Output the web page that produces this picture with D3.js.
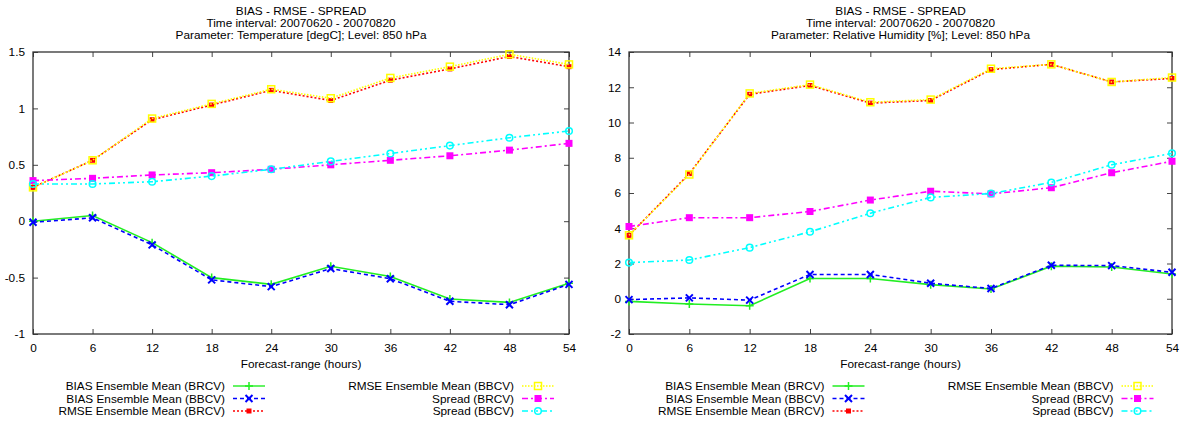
<!DOCTYPE html>
<html>
<head>
<meta charset="utf-8">
<script src="https://cdn.jsdelivr.net/npm/d3@7"></script>
<style>
  html, body { margin: 0; padding: 0; background: #ffffff; }
  svg { display: block; }
  text { font-family: "Liberation Sans", Arial, Helvetica, sans-serif; font-size: 11.8px; fill: #000; }
</style>
</head>
<body>
<svg id="chart" width="1184" height="421"></svg>
<script>
// ---------- data ----------
const hours = [0, 6, 12, 18, 24, 30, 36, 42, 48, 54];
const xTicks = [0, 6, 12, 18, 24, 30, 36, 42, 48, 54];

const seriesNames = [
  "BIAS Ensemble Mean (BRCV)",
  "BIAS Ensemble Mean (BBCV)",
  "RMSE Ensemble Mean (BRCV)",
  "RMSE Ensemble Mean (BBCV)",
  "Spread (BRCV)",
  "Spread (BBCV)"
];

// Temperature chart
const tempTitle = ["BIAS - RMSE - SPREAD", "Time interval: 20070620 - 20070820", "Parameter: Temperature [degC]; Level: 850 hPa"];
const tempYTicks = [-1, -0.5, 0, 0.5, 1, 1.5];
const tempBiasBRCV = [0.00, 0.05, -0.19, -0.50, -0.56, -0.40, -0.49, -0.69, -0.72, -0.55];
const tempBiasBBCV = [-0.01, 0.03, -0.21, -0.52, -0.58, -0.42, -0.51, -0.71, -0.74, -0.56];
const tempRmseBRCV = [0.30, 0.54, 0.90, 1.03, 1.16, 1.07, 1.25, 1.35, 1.46, 1.37];
const tempRmseBBCV = [0.30, 0.54, 0.91, 1.04, 1.17, 1.09, 1.27, 1.37, 1.48, 1.39];
const tempSpreadBRCV = [0.36, 0.38, 0.41, 0.43, 0.46, 0.50, 0.54, 0.58, 0.63, 0.69];
const tempSpreadBBCV = [0.33, 0.33, 0.35, 0.40, 0.46, 0.53, 0.60, 0.67, 0.74, 0.80];

// Relative humidity chart
const rhTitle = ["BIAS - RMSE - SPREAD", "Time interval: 20070620 - 20070820", "Parameter: Relative Humidity [%]; Level: 850 hPa"];
const rhYTicks = [-2, 0, 2, 4, 6, 8, 10, 12, 14];
const rhBiasBRCV = [-0.15, -0.30, -0.40, 1.15, 1.15, 0.80, 0.55, 1.85, 1.80, 1.40];
const rhBiasBBCV = [-0.05, 0.05, -0.08, 1.38, 1.38, 0.88, 0.58, 1.90, 1.88, 1.50];
const rhRmseBRCV = [3.60, 7.10, 11.60, 12.10, 11.10, 11.25, 13.00, 13.30, 12.30, 12.50];
const rhRmseBBCV = [3.60, 7.05, 11.65, 12.15, 11.15, 11.30, 13.05, 13.30, 12.30, 12.55];
const rhSpreadBRCV = [4.10, 4.60, 4.60, 4.95, 5.60, 6.10, 5.95, 6.30, 7.15, 7.80];
const rhSpreadBBCV = [2.05, 2.20, 2.90, 3.80, 4.85, 5.75, 5.97, 6.60, 7.60, 8.25];

const xLabel = "Forecast-range (hours)";

// ---------- styles ----------
const styles = [
  { color: "#22ee22", dash: null, marker: "plus" },
  { color: "#0000ff", dash: "4,3", marker: "cross" },
  { color: "#ff0000", dash: "2,2", marker: "smallsq" },
  { color: "#ffff00", dash: "1.5,1.5", marker: "opensq" },
  { color: "#ff00ff", dash: "6,3,2,3", marker: "fillsq" },
  { color: "#00ffff", dash: "6,3,2,3,2,3", marker: "circle" }
];

const svg = d3.select("#chart");

function drawMarker(g, type, color, x, y) {
  if (type === "plus") {
    g.append("path").attr("d", `M${x-4},${y}H${x+4}M${x},${y-4}V${y+4}`)
      .attr("stroke", color).attr("stroke-width", 1.5).attr("fill", "none");
  } else if (type === "cross") {
    g.append("path").attr("d", `M${x-3.5},${y-3.5}L${x+3.5},${y+3.5}M${x-3.5},${y+3.5}L${x+3.5},${y-3.5}`)
      .attr("stroke", color).attr("stroke-width", 2).attr("fill", "none");
  } else if (type === "smallsq") {
    g.append("rect").attr("x", x-2.5).attr("y", y-2.5).attr("width", 5).attr("height", 5)
      .attr("fill", color);
  } else if (type === "opensq") {
    g.append("rect").attr("x", x-3.5).attr("y", y-3.5).attr("width", 7).attr("height", 7)
      .attr("fill", "none").attr("stroke", color).attr("stroke-width", 1.5);
  } else if (type === "fillsq") {
    g.append("rect").attr("x", x-3.5).attr("y", y-3.5).attr("width", 7).attr("height", 7)
      .attr("fill", color);
  } else if (type === "circle") {
    g.append("circle").attr("cx", x).attr("cy", y).attr("r", 3.3)
      .attr("fill", "none").attr("stroke", color).attr("stroke-width", 1.5);
  }
}

function drawChart(cfg) {
  const left = cfg.left, right = cfg.right, top = 52, bottom = 334;
  const cx = (left + right) / 2;
  const x = d3.scaleLinear().domain([0, 54]).range([left, right]);
  const y = d3.scaleLinear().domain(cfg.yDomain).range([bottom, top]);
  const g = svg.append("g");

  // titles
  cfg.title.forEach((t, i) => {
    g.append("text").attr("x", cx).attr("y", 15 + i * 12)
      .attr("text-anchor", "middle").text(t);
  });

  // axes (inward ticks, mirrored)
  const axB = g.append("g").attr("transform", `translate(0,${bottom})`)
    .call(d3.axisBottom(x).tickValues(xTicks).tickSize(-5).tickPadding(8).tickFormat(d3.format("d")));
  const axT = g.append("g").attr("transform", `translate(0,${top})`)
    .call(d3.axisTop(x).tickValues(xTicks).tickSize(-5).tickFormat(""));
  const axL = g.append("g").attr("transform", `translate(${left},0)`)
    .call(d3.axisLeft(y).tickValues(cfg.yTicks).tickSize(-5).tickPadding(8).tickFormat(d => String(d)));
  const axR = g.append("g").attr("transform", `translate(${right},0)`)
    .call(d3.axisRight(y).tickValues(cfg.yTicks).tickSize(-5).tickFormat(""));
  [axB, axT, axL, axR].forEach(a => {
    a.select(".domain").remove();
    a.selectAll("line").attr("stroke", "#444");
    a.selectAll("text").attr("fill", "#000").style("font-size", "11.8px")
      .style("font-family", "'Liberation Sans', Arial, sans-serif");
  });
  axB.selectAll("text").attr("dy", "0.85em");

  // frame
  g.append("rect").attr("x", left).attr("y", top).attr("width", right - left).attr("height", bottom - top)
    .attr("fill", "none").attr("stroke", "#333").attr("stroke-width", 1.3);

  // x label
  g.append("text").attr("x", cx).attr("y", 368).attr("text-anchor", "middle").text(xLabel);

  // series
  const line = d3.line().x((d, i) => x(hours[i])).y(d => y(d));
  cfg.series.forEach((vals, si) => {
    const st = styles[si];
    const sg = g.append("g");
    sg.append("path").datum(vals).attr("d", line)
      .attr("fill", "none").attr("stroke", st.color).attr("stroke-width", 1.6)
      .attr("stroke-dasharray", st.dash);
    vals.forEach((v, i) => drawMarker(sg, st.marker, st.color, x(hours[i]), y(v)));
  });

  // legend
  const rows = [390, 402.5, 415];
  seriesNames.forEach((name, si) => {
    const col = si < 3 ? 0 : 1;
    const row = si % 3;
    const textRight = col === 0 ? cx - 76 : cx + 213;
    const ly = rows[row];
    const st = styles[si];
    g.append("text").attr("x", textRight).attr("y", ly).attr("text-anchor", "end").text(name);
    const x1 = textRight + 8, x2 = textRight + 40, my = ly - 4;
    g.append("line").attr("x1", x1).attr("x2", x2).attr("y1", my).attr("y2", my)
      .attr("stroke", st.color).attr("stroke-width", 1.4).attr("stroke-dasharray", st.dash);
    drawMarker(g, st.marker, st.color, (x1 + x2) / 2, my);
  });
}

drawChart({
  left: 33, right: 569,
  yDomain: [-1, 1.5], yTicks: tempYTicks, title: tempTitle,
  series: [tempBiasBRCV, tempBiasBBCV, tempRmseBRCV, tempRmseBBCV, tempSpreadBRCV, tempSpreadBBCV]
});
drawChart({
  left: 629, right: 1172,
  yDomain: [-2, 14], yTicks: rhYTicks, title: rhTitle,
  series: [rhBiasBRCV, rhBiasBBCV, rhRmseBRCV, rhRmseBBCV, rhSpreadBRCV, rhSpreadBBCV]
});
</script>
</body>
</html>
